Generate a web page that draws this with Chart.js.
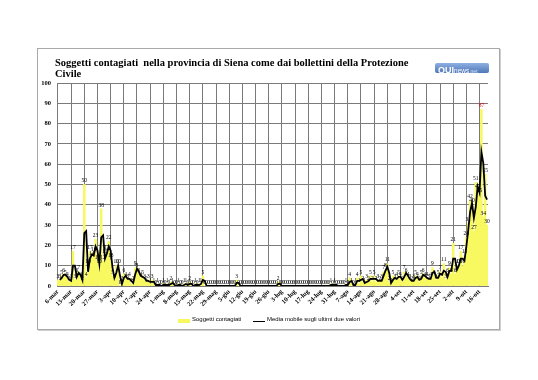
<!DOCTYPE html>
<html><head><meta charset="utf-8">
<script src="https://cdn.jsdelivr.net/npm/chart.js@4/dist/chart.umd.min.js"></script>
<style>
html,body{margin:0;padding:0;background:#fff;width:538px;height:380px;overflow:hidden}
#frame{position:absolute;left:37px;top:48px;width:461px;height:280px;border:1px solid #a8a8a8;box-shadow:1px 1px 0 #cfcfcf}
#title{position:absolute;left:55px;top:57px;font:bold 10.5px 'Liberation Serif',serif;line-height:11px;color:#000;white-space:pre}
#logo{position:absolute;left:435px;top:63px;width:54px;height:10px;border-radius:2px;background:linear-gradient(#8eb0e2,#4f77b8);font-family:'Liberation Sans',sans-serif;color:#fff;line-height:10px;white-space:nowrap;overflow:hidden}
#logo b{font-size:9px;margin-left:3px}
#logo span{font-size:6.5px}
#logo i{font-size:5px;font-style:normal;color:#dde6f5}
#wrap{position:absolute;left:0;top:0;width:538px;height:380px}
#legend{position:absolute;top:316px;left:178px;font:6px 'Liberation Sans Narrow','Liberation Sans',sans-serif;color:#000;white-space:nowrap}
#legend .sw{position:absolute;top:3px;left:0;width:12px;height:4px;background:#f8f860}
#legend .t1{position:absolute;left:14px;top:0}
#legend .ln{position:absolute;top:4.5px;left:75px;width:12px;height:1px;background:#000}
#legend .t2{position:absolute;left:89px;top:0}
</style></head>
<body>
<div id="frame"></div>
<div id="wrap"><canvas id="c" width="538" height="380"></canvas></div>
<div id="title">Soggetti contagiati  nella provincia di Siena come dai bollettini della Protezione
Civile</div>
<div id="logo"><b>QUI</b><span>news</span><i>.net</i></div>
<div id="legend"><div class="sw"></div><div class="t1">Soggetti contagiati</div><div class="ln"></div><div class="t2">Media mobile sugli ultimi due valori</div></div>
<script>
// weekly tick labels (every 7 days starting 6-mar)
const tickLabels = ['6-mar','13-mar','20-mar','27-mar','3-apr','10-apr','17-apr','24-apr','1-mag','8-mag','15-mag','22-mag','29-mag','5-giu','12-giu','19-giu','26-giu','3-lug','10-lug','17-lug','24-lug','31-lug','7-ago','14-ago','21-ago','28-ago','4-set','11-set','18-set','25-set','2-ott','9-ott','16-ott'];
// daily new cases ("Soggetti contagiati"), from 6-mar
const contagiati = [
 3,3,5,6,5,4,2,3,17,3,6,7,4,2,
 50,4,10,17,14,16,23,12,10,38,12,15,17,22,
 13,5,3,10,10,0,2,6,4,3,4,1,2,9,
 8,6,4,5,3,2,3,1,3,1,0,1,0,0,
 1,0,1,0,2,1,0,0,1,0,0,1,1,0,
 2,0,0,1,0,1,1,5,0,0,0,0,0,0,
 0,0,0,0,0,0,0,0,0,0,0,3,0,0,
 0,0,0,0,0,0,0,0,0,0,0,0,0,0,
 0,0,0,0,0,2,0,0,0,0,0,0,0,0,
 0,0,0,0,0,0,0,0,0,0,0,0,0,0,
 0,0,0,0,0,1,0,1,0,0,0,0,0,1,
 0,4,1,0,1,4,1,5,2,1,3,2,5,2,
 5,2,3,2,3,7,8,11,2,1,5,3,4,5,
 4,2,7,6,4,3,2,3,5,4,2,5,6,4,
 4,3,4,9,5,3,5,7,4,11,3,6,9,6,
 21,6,10,10,17,10,15,24,31,42,40,27,51,47,
 45,87,34,55,30
];
// categories: one per day
const categories = contagiati.map((_, i) => i);
// 2-period moving average as stated in the legend
const mediaMobile = contagiati.map((v, i) => i === 0 ? null : (v + contagiati[i - 1]) / 2);

const maxVal = Math.max(...contagiati);
const labelPlugin = {
  id: 'barLabels',
  afterDatasetsDraw(chart) {
    const ctx = chart.ctx;
    const meta = chart.getDatasetMeta(1);
    ctx.save();
    ctx.font = '5.5px "Liberation Serif"';
    ctx.textAlign = 'center';
    ctx.textBaseline = 'bottom';
    meta.data.forEach((el, i) => {
      const v = contagiati[i];
      ctx.fillStyle = v === maxVal ? '#e00000' : '#000';
      ctx.fillText(String(v), el.x, el.y - 1);
    });
    ctx.restore();
  }
};

new Chart(document.getElementById('c'), {
  data: {
    labels: categories,
    datasets: [
      { type: 'line', label: 'Media mobile sugli ultimi due valori', data: mediaMobile, borderColor: '#000', borderWidth: 1.8, pointRadius: 0, tension: 0, order: 0 },
      { type: 'bar', label: 'Soggetti contagiati', data: contagiati, backgroundColor: '#f8f860', barPercentage: 1, categoryPercentage: 1, order: 1 }
    ]
  },
  options: {
    responsive: false,
    animation: false,
    layout: { padding: { left: 0, top: 83, right: 50, bottom: 64 } },
    plugins: { legend: { display: false }, tooltip: { enabled: false } },
    scales: {
      x: {
        type: 'category',
        offset: true,
        grid: { offset: false, drawTicks: false, color: (c) => (c.index % 7 === 0 ? '#7a7a7a' : 'rgba(0,0,0,0)'), lineWidth: 1 },
        border: { display: true, color: '#7a7a7a' },
        ticks: {
          autoSkip: false, maxRotation: 45, minRotation: 45, padding: 2,
          font: { family: 'Liberation Serif', size: 6.5, weight: 'bold' }, color: '#000',
          callback: (val, i) => (i % 7 === 0 ? tickLabels[i / 7] : '')
        },
        afterFit: (s) => { s.height = 30; }
      },
      y: {
        min: 0, max: 100,
        ticks: { stepSize: 10, padding: 6, font: { family: 'Liberation Serif', size: 6.5, weight: 'bold' }, color: '#000' },
        grid: { color: '#7a7a7a', drawTicks: false, lineWidth: 1 },
        border: { display: true, color: '#7a7a7a' },
        afterFit: (s) => { s.width = 57; }
      }
    }
  },
  plugins: [labelPlugin]
});
</script>
</body></html>
